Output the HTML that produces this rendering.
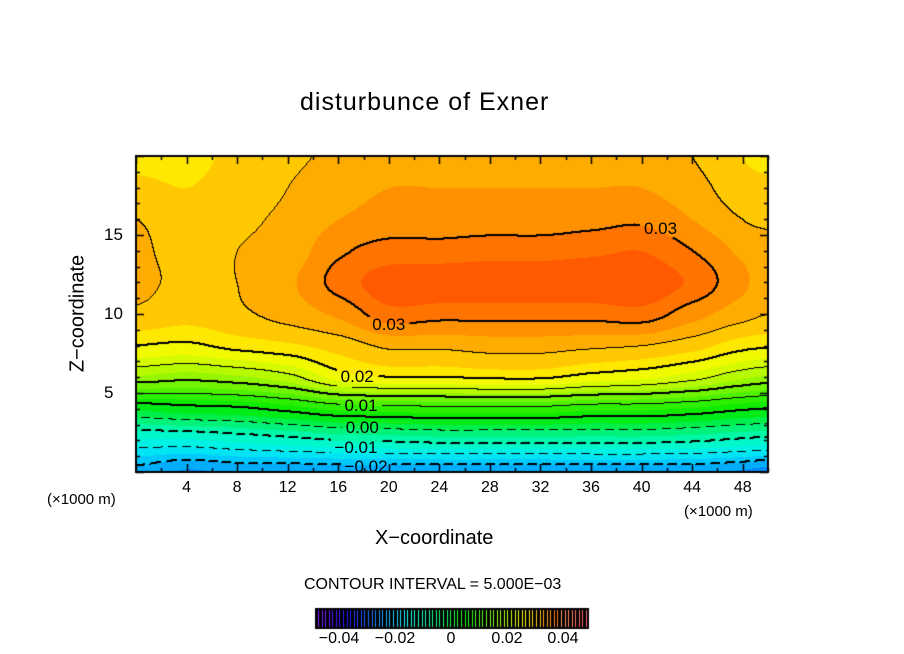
<!DOCTYPE html>
<html><head><meta charset="utf-8">
<style>
body{margin:0;background:#fff;width:904px;height:654px;position:relative;overflow:hidden;font-family:"Liberation Sans",sans-serif;}
.t{position:absolute;color:#000;white-space:nowrap;}
</style></head>
<body>
<div class="t" style="left:300px;top:88px;font-size:25px;letter-spacing:1px;">disturbunce of Exner</div>
<canvas id="plot" width="904" height="654" style="position:absolute;left:0;top:0"></canvas>
<div class="t" style="left:-2px;top:302px;font-size:20px;transform:rotate(-90deg);transform-origin:center;width:160px;text-align:center;">Z−coordinate</div>
<div class="t" style="left:375px;top:527px;font-size:20px;">X−coordinate</div>
<div class="t" style="left:47px;top:491px;font-size:15px;">(×1000 m)</div>
<div class="t" style="left:684px;top:503px;font-size:15px;">(×1000 m)</div>
<div class="t" style="left:304px;top:576px;font-size:16px;">CONTOUR INTERVAL = 5.000E−03</div>
<div id="labels"></div>
<script>
const xs=[0,4,8,12,16,20,24,28,32,36,40,44,48,50];
const zs=[0,2,4,6,8,10,12,14,16,18,20];
// field[col][row] values at xs[col], zs[row]
const col0=[-0.021,-0.013,-0.002,0.012,0.020,0.0245,0.0255,0.0255,0.025,0.023,0.022];
const col4=[-0.023,-0.013,-0.001,0.011,0.0195,0.0235,0.0245,0.024,0.0235,0.0225,0.022];
const col8=[-0.022,-0.012,-0.0005,0.012,0.021,0.0245,0.025,0.025,0.0245,0.0235,0.023];
const col12=[-0.022,-0.011,0.001,0.014,0.022,0.026,0.027,0.026,0.0255,0.025,0.0245];
const col16=[-0.022,-0.010,0.003,0.0185,0.0235,0.028,0.031,0.0295,0.0275,0.0265,0.0255];
const col20=[-0.022,-0.0095,0.0035,0.020,0.0255,0.0315,0.034,0.031,0.0285,0.0275,0.0265];
const col24=[-0.022,-0.009,0.004,0.020,0.0255,0.031,0.0344,0.031,0.0285,0.0275,0.0265];
const col28=[-0.022,-0.009,0.004,0.0205,0.026,0.031,0.0344,0.0315,0.0285,0.0275,0.0265];
const col32=[-0.022,-0.009,0.004,0.0205,0.026,0.031,0.0344,0.0315,0.0285,0.0275,0.0265];
const col36=[-0.022,-0.009,0.003,0.019,0.0255,0.031,0.0344,0.032,0.029,0.0275,0.0265];
const col40=[-0.022,-0.009,0.003,0.018,0.025,0.0315,0.0344,0.0325,0.0295,0.0275,0.0265];
const col44=[-0.022,-0.0095,0.002,0.016,0.0235,0.0285,0.032,0.030,0.0275,0.026,0.025];
const col48=[-0.023,-0.0105,0.0005,0.013,0.021,0.026,0.028,0.027,0.025,0.0235,0.0225];
const col50=[-0.024,-0.011,0,0.012,0.0205,0.025,0.0265,0.026,0.0245,0.023,0.022];
const field=[col0,col4,col8,col12,col16,col20,col24,col28,col32,col36,col40,col44,col48,col50];
const xTicks=[4,8,12,16,20,24,28,32,36,40,44,48];
const zTicks=[5,10,15];
const cbTicks=[-0.04,-0.02,0,0.02,0.04];
const cbLabels=["−0.04","−0.02","0","0.02","0.04"];
const contourLabels=["0.03","0.03","0.02","0.01","0.00","−0.01","−0.02"];
const contourLabelX=[20,41.5,17.5,17.8,17.9,17.4,18.2];
const contourLabelZ=[9.3,15.4,6.0,4.2,2.8,1.5,0.3];

const L=136,R=768,T=156,B=472,XMAX=50,ZMAX=20;
const sx=x=>L+(x/XMAX)*(R-L), sz=z=>B-(z/ZMAX)*(B-T);
const ix=p=>(p-L)/(R-L)*XMAX, iz=p=>(B-p)/(B-T)*ZMAX;

function interp1(arr,pos,v){
  let i=0; while(i<pos.length-2&&v>pos[i+1])i++;
  const t=Math.max(0,Math.min(1,(v-pos[i])/(pos[i+1]-pos[i])));
  const p0=arr[Math.max(0,i-1)],p1=arr[i],p2=arr[i+1],p3=arr[Math.min(arr.length-1,i+2)];
  const m1=(p2-p0)/2*0.8,m2=(p3-p1)/2*0.8;
  const t2=t*t,t3=t2*t;
  return (2*t3-3*t2+1)*p1+(t3-2*t2+t)*m1+(-2*t3+3*t2)*p2+(t3-t2)*m2;
}
function val(x,z){
  const colv=field.map(c=>interp1(c,zs,z));
  return interp1(colv,xs,x);
}
const stops=[[-0.03,0,80,255],[-0.025,0,120,255],[-0.02,0,190,255],[-0.015,0,240,240],[-0.01,0,250,190],[-0.005,0,240,100],[0,0,235,0],[0.005,60,240,0],[0.01,130,245,0],[0.015,200,250,0],[0.02,255,250,0],[0.0225,255,215,0],[0.025,255,185,0],[0.0275,255,160,0],[0.03,255,130,0],[0.0325,255,100,0],[0.035,255,80,0],[0.05,255,60,0]];
function color(v){
  v=Math.floor(v/0.0025)*0.0025+0.00125;
  for(let i=0;i<stops.length-1;i++){const a=stops[i],b=stops[i+1];
    if(v<=b[0]){const t=Math.max(0,(v-a[0])/(b[0]-a[0]));return [a[1]+(b[1]-a[1])*t,a[2]+(b[2]-a[2])*t,a[3]+(b[3]-a[3])*t];}}
  return stops[stops.length-1].slice(1);
}
// label gap boxes (pixel)
const boxes=contourLabels.map((s,k)=>{const x=sx(contourLabelX[k]),y=sz(contourLabelZ[k]);const w=s.length*9.5;return [x-w/2-2,y-9,x+w/2+2,y+9];});
const inBox=(px,py)=>boxes.some(b=>px>=b[0]&&px<=b[2]&&py>=b[1]&&py<=b[3]);

const cv=document.getElementById('plot'),ctx=cv.getContext('2d');
const W=R-L,H=B-T;
const V=[];
for(let j=0;j<=H;j++){V[j]=[];for(let i=0;i<=W;i++)V[j][i]=val(ix(L+i),iz(T+j));}
const img=ctx.createImageData(W,H);
const lev=v=>Math.floor(v/0.005+1e-9);
for(let j=0;j<H;j++)for(let i=0;i<W;i++){
  const v=V[j][i];let c=color(v);
  const k=lev(v),kr=lev(V[j][i+1]),kd=lev(V[j+1][i]);
  if((k!==kr||k!==kd)&&!inBox(L+i,T+j)){
    const L2=Math.max(k,kr,kd); const lv=L2*0.005;
    const neg=lv<-1e-9;
    if(!(neg&&((i+j)%14)>8)) c=[0,0,0];
  }
  const p=(j*W+i)*4;img.data[p]=c[0];img.data[p+1]=c[1];img.data[p+2]=c[2];img.data[p+3]=255;
}
ctx.putImageData(img,L,T);
ctx.fillStyle='#000';
for(let j=0;j<H;j++)for(let i=1;i<W;i++){
  if(inBox(L+i,T+j))continue;
  const a=V[j][i-1],b=V[j][i],c2=V[j+1][i];
  for(const lv of [-0.02,-0.01,0,0.01,0.02,0.03]){
    if(((a-lv)*(b-lv)<0||(c2-lv)*(b-lv)<0)){
      if(lv<0&&((i+j)%14)>8)continue;
      ctx.fillRect(L+i-1,T+j,2,1);ctx.fillRect(L+i,T+j-1,1,2);
    }
  }
}
ctx.strokeStyle='#000';ctx.lineWidth=2;ctx.strokeRect(L,T,W,H);
ctx.lineWidth=1.5;
for(let x=0;x<=XMAX;x+=2){const p=Math.round(sx(x))+0.5,len=(x%4===0)?8:4;
  ctx.beginPath();ctx.moveTo(p,B);ctx.lineTo(p,B-len);ctx.moveTo(p,T);ctx.lineTo(p,T+len);ctx.stroke();}
for(let z=0;z<=ZMAX;z+=1){const p=Math.round(sz(z))+0.5,len=(z%5===0)?8:4;
  ctx.beginPath();ctx.moveTo(L,p);ctx.lineTo(L+len,p);ctx.moveTo(R,p);ctx.lineTo(R-len,p);ctx.stroke();}
ctx.fillStyle='#000';ctx.fillRect(315,608,274,21);
ctx.lineWidth=1;
for(let k=0;k<76;k++){const t=k/75;const x=Math.round(318+t*268)+0.5;
  const h=(270-t*275+360)%360;
  ctx.strokeStyle='hsl('+h+',100%,'+(t>0.9?70:55)+'%)';ctx.beginPath();ctx.moveTo(x,610);ctx.lineTo(x,627);ctx.stroke();}
const lab=document.getElementById('labels');
function addText(txt,x,y,fs,name,center){const d=document.createElement('div');d.className='t';d.textContent=txt;
  
  
  d.style.left=x+'px';d.style.top=y+'px';d.style.fontSize=fs+'px';if(center)d.style.transform='translateX(-50%)';
  lab.appendChild(d);}
xTicks.forEach(x=>addText(String(x),sx(x),479,16,'x-tick-label',true));
zTicks.forEach(z=>addText(String(z),104,sz(z)-10,17,'y-tick-label',false));
const cbx=v=>451+v/0.02*56;
cbTicks.forEach((v,i)=>addText(cbLabels[i],cbx(v),630,16,'colorbar-tick-label',true));
contourLabels.forEach((s,k)=>addText(s,sx(contourLabelX[k]),sz(contourLabelZ[k])-10,17,'contour-label',true));
</script>
</body></html>
